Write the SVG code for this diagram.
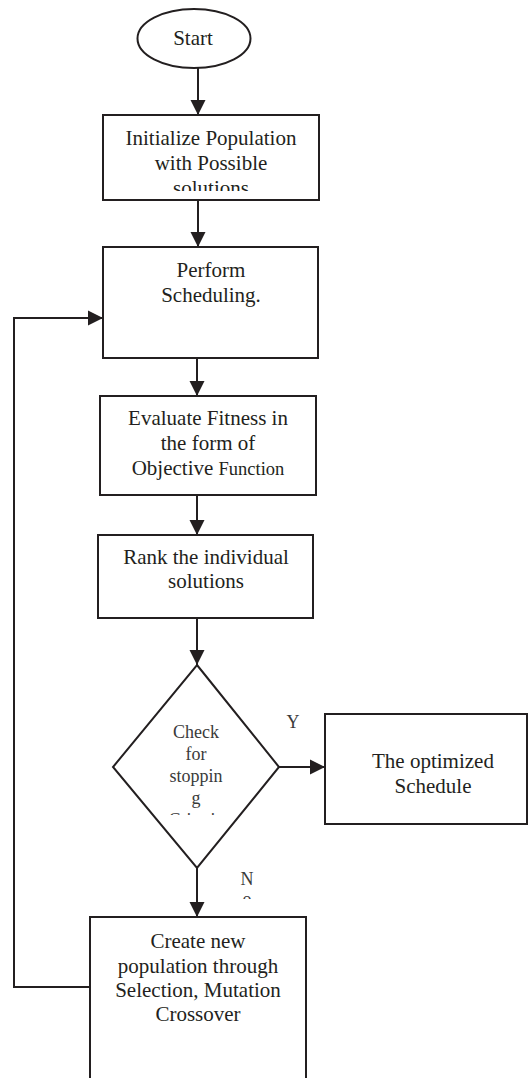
<svg xmlns="http://www.w3.org/2000/svg" width="529" height="1078" viewBox="0 0 529 1078">
<style>
.box{fill:#fff;stroke:#231f20;stroke-width:2}
.ln{fill:none;stroke:#231f20;stroke-width:2}
text{font-family:"Liberation Serif","Times New Roman",serif;fill:#231f20;text-anchor:middle}
.t21{font-size:21px}
.t18{font-size:18.5px}
.dt{font-size:18px;fill:#3a3a3a}
</style>
<defs>
<marker id="ah" markerUnits="userSpaceOnUse" markerWidth="16" markerHeight="16" viewBox="0 0 16 16" refX="15" refY="8" orient="auto">
<path d="M0,0.5 L15,8 L0,15.5 Z" fill="#231f20"/>
</marker>
<clipPath id="c1"><rect x="103" y="115" width="216" height="76"/></clipPath>
<clipPath id="cd"><rect x="113" y="665" width="166" height="150"/></clipPath>
<clipPath id="cn"><rect x="230" y="860" width="40" height="39"/></clipPath>
</defs>
<g id="connectors">
<line class="ln" x1="198" y1="68" x2="198" y2="115" marker-end="url(#ah)"/>
<line class="ln" x1="198" y1="200" x2="198" y2="247" marker-end="url(#ah)"/>
<line class="ln" x1="197" y1="358" x2="197" y2="396" marker-end="url(#ah)"/>
<line class="ln" x1="197" y1="495" x2="197" y2="535" marker-end="url(#ah)"/>
<line class="ln" x1="197" y1="618" x2="197" y2="665" marker-end="url(#ah)"/>
<line class="ln" x1="279" y1="767" x2="325" y2="767" marker-end="url(#ah)"/>
<line class="ln" x1="197" y1="868" x2="197" y2="917" marker-end="url(#ah)"/>
<path class="ln" d="M90,987 L14,987 L14,318 L103,318" marker-end="url(#ah)"/>
<text class="dt" x="293" y="728">Y</text>
<g clip-path="url(#cn)">
<text class="dt" x="247" y="885">N</text>
<text class="dt" x="247" y="905">o</text>
</g>
</g>
<g id="start">
<ellipse class="box" cx="194" cy="38.5" rx="56.5" ry="29.5"/>
<text class="t21" x="193" y="45">Start</text>
</g>
<g id="init">
<rect class="box" x="103" y="115" width="216" height="85"/>
<g clip-path="url(#c1)">
<text class="t21" x="211" y="145">Initialize Population</text>
<text class="t21" x="211" y="170">with Possible</text>
<text class="t21" x="211" y="195">solutions</text>
</g>
</g>
<g id="schedule">
<rect class="box" x="103" y="247" width="215" height="111"/>
<text class="t21" x="211" y="277">Perform</text>
<text class="t21" x="211" y="302">Scheduling.</text>
</g>
<g id="evaluate">
<rect class="box" x="100" y="396" width="216" height="99"/>
<text class="t21" x="208" y="425">Evaluate Fitness in</text>
<text class="t21" x="208" y="450">the form of</text>
<text class="t21" x="208" y="475">Objective <tspan class="t18">Function</tspan></text>
</g>
<g id="rank">
<rect class="box" x="98" y="535" width="215" height="83"/>
<text class="t21" x="206" y="564">Rank the individual</text>
<text class="t21" x="206" y="588">solutions</text>
</g>
<g id="check">
<path class="box" d="M197,665 L279,767 L197,868 L113,767 Z"/>
<g clip-path="url(#cd)">
<text class="dt" x="196" y="738">Check</text>
<text class="dt" x="196" y="760">for</text>
<text class="dt" x="196" y="782">stoppin</text>
<text class="dt" x="196" y="804">g</text>
<text class="dt" x="196" y="826">Criteria</text>
</g>
</g>
<g id="optimized">
<rect class="box" x="325" y="714" width="202" height="110"/>
<text class="t21" x="433" y="768">The optimized</text>
<text class="t21" x="433" y="793">Schedule</text>
</g>
<g id="create">
<path class="box" d="M90,1080 L90,917 L306,917 L306,1080"/>
<text class="t21" x="198" y="948">Create new</text>
<text class="t21" x="198" y="973">population through</text>
<text class="t21" x="198" y="997">Selection, Mutation</text>
<text class="t21" x="198" y="1021">Crossover</text>
</g>
</svg>
